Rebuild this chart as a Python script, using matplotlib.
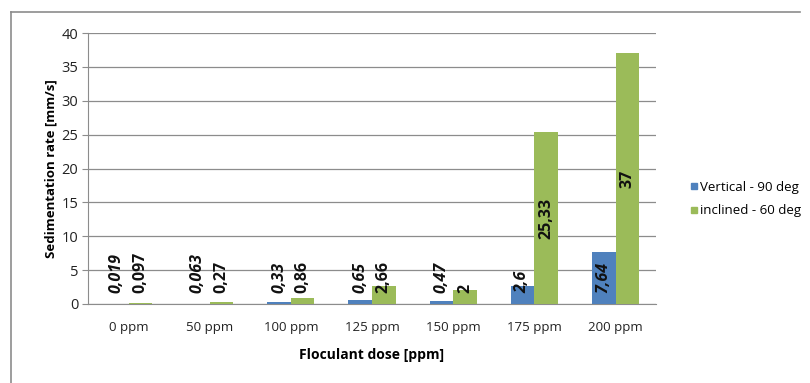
import numpy as np
import matplotlib
matplotlib.use("Agg")
import matplotlib.pyplot as plt
from matplotlib.lines import Line2D

plt.rcParams["font.family"] = ["Open Sans", "DejaVu Sans"]

doses = ["0 ppm", "50 ppm", "100 ppm", "125 ppm", "150 ppm", "175 ppm", "200 ppm"]
vertical = [0.019, 0.063, 0.33, 0.65, 0.47, 2.6, 7.64]
inclined = [0.097, 0.27, 0.86, 2.66, 2.0, 25.33, 37.0]
vert_txt = ["0,019", "0,063", "0,33", "0,65", "0,47", "2,6", "7,64"]
incl_txt = ["0,097", "0,27", "0,86", "2,66", "2", "25,33", "37"]

BLUE, GREEN = "#4f81bd", "#9bbb59"
fig = plt.figure(figsize=(8.10, 3.83), dpi=100)
ax = fig.add_axes([0.1086, 0.2063, 0.7014, 0.7075])

x = np.arange(len(doses))
w = 0.29
ax.bar(x - w / 2, vertical, w, color=BLUE, zorder=3)
ax.bar(x + w / 2, inclined, w, color=GREEN, zorder=3)

ax.set_xlim(-0.5, len(doses) - 0.5)
ax.set_ylim(0, 40)
ax.set_yticks(range(0, 41, 5))
ax.set_xticks(x)
ax.set_xticklabels(doses)
ax.grid(axis="y", color="#8c8c8c", lw=0.9, zorder=0)
for s in ("top", "right"):
    ax.spines[s].set_visible(False)
ax.spines["left"].set_color("#8c8c8c")
ax.spines["bottom"].set_color("#8c8c8c")
ax.tick_params(axis="y", length=4, color="#8c8c8c", labelsize=10.5, pad=3, labelcolor="#222222")
ax.tick_params(axis="x", length=0, labelsize=9.5, pad=12, labelcolor="#222222")
ax.set_ylabel("Sedimentation rate [mm/s]", fontsize=9.5, fontweight="bold", labelpad=3)
ax.set_xlabel("Floculant dose [ppm]", fontsize=10, fontweight="bold", labelpad=10)

# value labels, centred in the bar but never sinking below the floor
labels = []
for xi, v, t in zip(x - w / 2, vertical, vert_txt):
    labels.append((ax.text(xi, v / 2, t, rotation=90, ha="center", va="center",
                           rotation_mode="anchor", fontsize=11.5, fontweight="bold",
                           style="italic", color="#111111", zorder=4), v))
for xi, v, t in zip(x + w / 2, inclined, incl_txt):
    labels.append((ax.text(xi, v / 2, t, rotation=90, ha="center", va="center",
                           rotation_mode="anchor", fontsize=11.5, fontweight="bold",
                           color="#111111", zorder=4), v))
fig.canvas.draw()
r = fig.canvas.get_renderer()
inv = ax.transData.inverted()
floor = 1.6
for txt, v in labels:
    bb = txt.get_window_extent(r)
    y0 = inv.transform((0, bb.y0))[1]
    if y0 < floor:
        xx, yy = txt.get_position()
        txt.set_position((xx, yy + floor - y0))

handles = [Line2D([], [], marker="s", ls="", color=BLUE, markersize=5),
           Line2D([], [], marker="s", ls="", color=GREEN, markersize=5)]
fig.legend(handles, ["Vertical - 90 deg", "inclined - 60 deg"], loc="center left",
           bbox_to_anchor=(0.835, 0.48), frameon=False, fontsize=9.5,
           handletextpad=0.1, handlelength=0.8, labelspacing=0.8)

# chart border
fig.add_artist(Line2D([11 / 810, 11 / 810], [0, 1 - 12 / 383], transform=fig.transFigure,
                      color="#8c8c8c", lw=1.2))
fig.add_artist(Line2D([11 / 810, 800 / 810], [1 - 12 / 383, 1 - 12 / 383],
                      transform=fig.transFigure, color="#8c8c8c", lw=1.2))

fig.savefig("out.png", dpi=100)
